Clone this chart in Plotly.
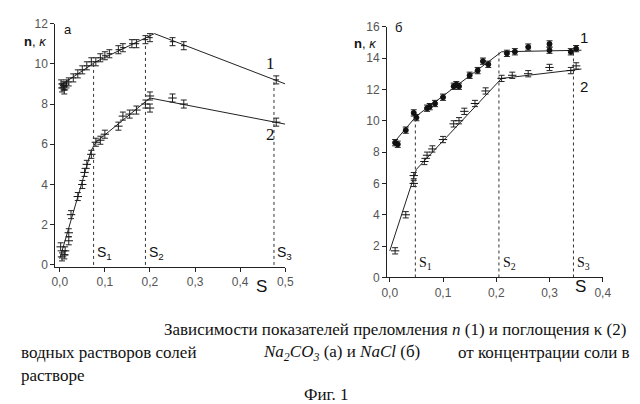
import plotly.graph_objects as go

# Panel a (Na2CO3)
a_n_x = [0.003,0.005,0.008,0.01,0.012,0.015,0.02,0.03,0.04,0.05,0.06,0.07,0.08,0.09,0.1,0.11,0.13,0.14,0.16,0.17,0.19,0.2,0.25,0.275,0.48]
a_n_y = [9.0,8.8,8.9,8.7,8.9,9.0,9.1,9.3,9.5,9.7,9.9,10.1,10.1,10.3,10.4,10.5,10.7,10.8,11.0,11.0,11.2,11.3,11.1,10.9,9.2]
a_n_fit_x = [0.0,0.08,0.21,0.5]
a_n_fit_y = [8.9,10.1,11.5,9.0]
a_k_x = [0.002,0.005,0.01,0.012,0.02,0.02,0.025,0.04,0.05,0.055,0.06,0.07,0.08,0.09,0.1,0.13,0.14,0.155,0.17,0.19,0.2,0.2,0.25,0.275,0.48]
a_k_y = [0.9,0.4,0.5,0.7,1.6,1.2,2.5,3.4,4.0,4.6,5.0,5.5,6.1,6.2,6.5,6.9,7.4,7.5,7.7,8.0,7.8,8.4,8.3,8.0,7.1]
a_k_fit_x = [0.0,0.07,0.08,0.2,0.5]
a_k_fit_y = [0.3,5.7,6.1,8.3,7.0]
a_s_x = [0.075,0.19,0.475]
a_s_top = [10.1,11.3,9.2]

# Panel б (NaCl)
b_n_x = [0.01,0.015,0.03,0.045,0.05,0.07,0.075,0.085,0.1,0.12,0.125,0.13,0.15,0.165,0.175,0.185,0.22,0.235,0.26,0.3,0.3,0.34,0.35]
b_n_y = [8.6,8.5,9.4,10.5,10.2,10.8,10.9,11.1,11.5,12.2,12.3,12.2,12.9,13.2,13.8,13.6,14.3,14.4,14.7,14.9,14.5,14.4,14.6]
b_n_fit_x = [0.01,0.05,0.21,0.36]
b_n_fit_y = [8.7,10.3,14.4,14.5]
b_k_x = [0.01,0.03,0.045,0.045,0.065,0.07,0.08,0.1,0.12,0.13,0.14,0.16,0.18,0.21,0.23,0.26,0.3,0.34,0.35]
b_k_y = [1.7,4.0,6.0,6.5,7.4,7.8,8.2,8.8,9.8,10.0,10.6,11.1,11.9,12.7,12.9,13.0,13.4,13.2,13.5]
b_k_fit_x = [0.0,0.05,0.21,0.36]
b_k_fit_y = [1.7,6.9,12.7,13.3]
b_s_x = [0.048,0.205,0.345]
b_s_top = [10.2,14.4,14.5]

fig = go.Figure()
K = dict(color="#222", width=1)
EB = dict(type="constant", value=0.2, color="#222", thickness=1, width=3)

def panel(xa, ya, nx, ny, nfx, nfy, kx, ky, kfx, kfy, sx, stop, filled):
    fig.add_trace(go.Scatter(x=nfx, y=nfy, mode="lines", line=K, xaxis=xa, yaxis=ya))
    fig.add_trace(go.Scatter(x=kfx, y=kfy, mode="lines", line=K, xaxis=xa, yaxis=ya))
    fig.add_trace(go.Scatter(x=nx, y=ny, mode="markers", error_y=EB,
        marker=dict(size=5 if filled else 4, color="#111", symbol="circle" if filled else "line-ew-open",
                    line=dict(color="#111", width=1)), xaxis=xa, yaxis=ya))
    fig.add_trace(go.Scatter(x=kx, y=ky, mode="markers", error_y=EB,
        marker=dict(size=6, color="#111", symbol="line-ew-open", line=dict(color="#111", width=1)),
        xaxis=xa, yaxis=ya))
    for s, t in zip(sx, stop):
        fig.add_trace(go.Scatter(x=[s, s], y=[0, t], mode="lines",
            line=dict(color="#333", width=1, dash="dot"), xaxis=xa, yaxis=ya))

panel("x", "y", a_n_x, a_n_y, a_n_fit_x, a_n_fit_y, a_k_x, a_k_y, a_k_fit_x, a_k_fit_y, a_s_x, a_s_top, False)
panel("x2", "y2", b_n_x, b_n_y, b_n_fit_x, b_n_fit_y, b_k_x, b_k_y, b_k_fit_x, b_k_fit_y, b_s_x, b_s_top, True)

ax = dict(showline=True, linecolor="#222", linewidth=1, ticks="outside", ticklen=4, tickcolor="#222",
          showgrid=False, zeroline=False, tickfont=dict(family="Liberation Sans", size=12, color="#555"))

fig.update_layout(
    width=640, height=404, margin=dict(l=0, r=0, t=0, b=0),
    paper_bgcolor="white", plot_bgcolor="white", showlegend=False,
    xaxis=dict(ax, domain=[0.066, 0.434], range=[-0.01, 0.5], tickvals=[0,0.1,0.2,0.3,0.4,0.5],
               ticktext=["0,0","0,1","0,2","0,3","0,4","0,5"], anchor="y"),
    yaxis=dict(ax, domain=[0.354, 0.978], range=[-0.1, 12], tickvals=[0,2,4,6,8,10,12], anchor="x"),
    xaxis2=dict(ax, domain=[0.597, 0.942], range=[-0.005, 0.4], tickvals=[0,0.1,0.2,0.3,0.4],
               ticktext=["0,0","0,1","0,2","0,3","0,4"], anchor="y2"),
    yaxis2=dict(ax, domain=[0.327, 0.970], range=[0, 16], tickvals=[0,2,4,6,8,10,12,14,16], anchor="x2"),
)

def ann(text, x, y, size=13, family="Liberation Sans", xref="paper", yref="paper", xanchor="center", yanchor="middle"):
    fig.add_annotation(text=text, x=x, y=y, xref=xref, yref=yref, showarrow=False,
                       font=dict(family=family, size=size, color="#111"), xanchor=xanchor, yanchor=yanchor)

# panel labels
ann("<b>n</b>, <i>κ</i>", 0.012, 1-27/404, 13, xanchor="left")
ann("а", 0.076, 1-15/404, 13, xanchor="left")
ann("<b>n</b>, <i>κ</i>", 0.541, 1-30/404, 13, xanchor="left")
ann("б", 0.607, 1-13/404, 13, xanchor="left")
ann("1", 0.468, 10.0, 17, "Liberation Serif", yref="y", xref="x")
ann("2", 0.468, 6.5, 17, "Liberation Serif", yref="y", xref="x")
ann("1", 0.364, 15.3, 15, yref="y2", xref="x2")
ann("2", 0.364, 12.2, 15, yref="y2", xref="x2")
for sx, nm in [(0.075, "S<sub>1</sub>"), (0.19, "S<sub>2</sub>"), (0.475, "S<sub>3</sub>")]:
    ann(nm, sx + 0.003, 0.6, 14, xref="x", yref="y", xanchor="left")
for sx, nm in [(0.048, "S<sub>1</sub>"), (0.205, "S<sub>2</sub>"), (0.345, "S<sub>3</sub>")]:
    ann(nm, sx + 0.003, 0.9, 14, "Liberation Serif", xref="x2", yref="y2", xanchor="left")
ann("S", 253/640, 1-281/404, 17)
ann("S", 580/640, 1-281/404, 17)

cap = "Liberation Serif"
ann("Зависимости показателей преломления <i>n</i> (1) и поглощения κ (2)", 0.982, 1-326/404, 17, cap, xanchor="right")
ann("водных растворов солей", 0.008, 1-350/404, 17, cap, xanchor="left")
ann("<i>Na<sub>2</sub>CO<sub>3</sub></i> (а) и <i>NaCl</i> (б)", 253/640, 1-350/404, 17, cap, xanchor="left")
ann("от концентрации соли в", 0.988, 1-350/404, 17, cap, xanchor="right")
ann("растворе", 0.008, 1-373/404, 17, cap, xanchor="left")
ann("Фиг. 1", 0.5, 1-393/404, 17, cap)

fig.write_html("out.html")
